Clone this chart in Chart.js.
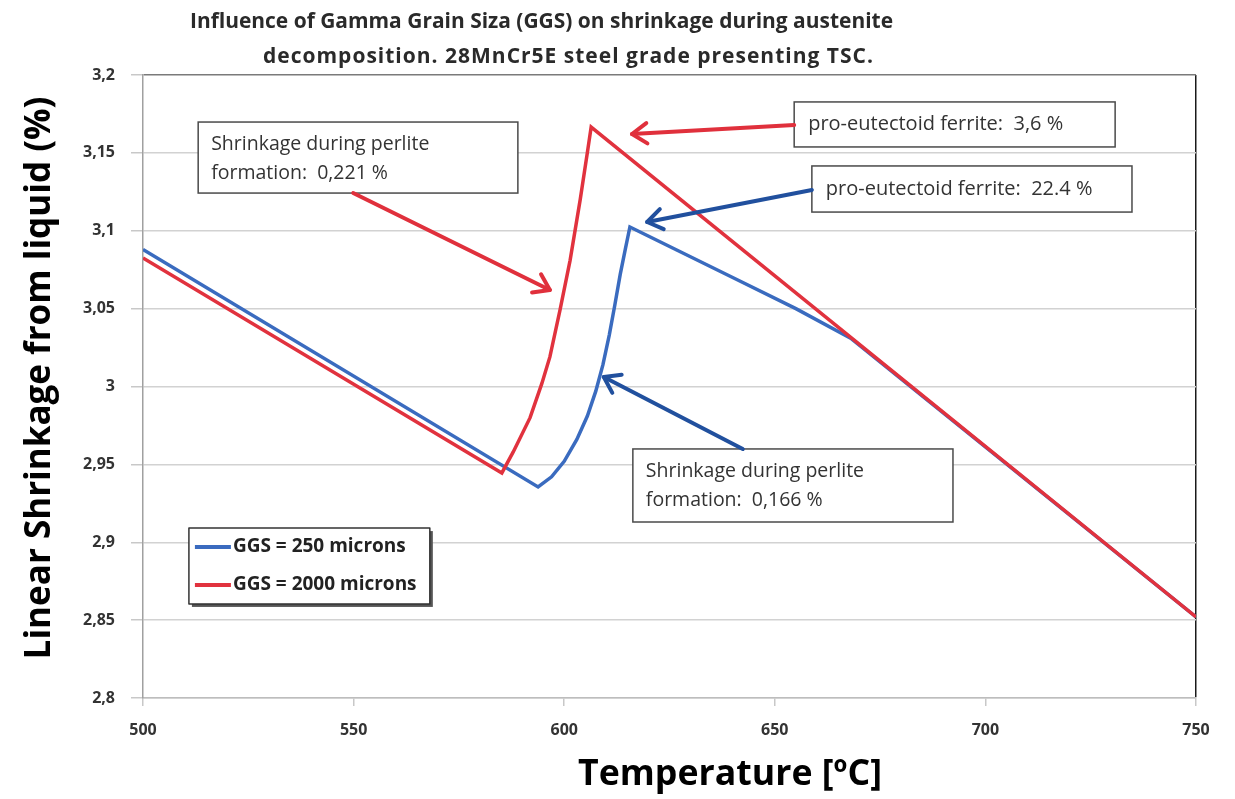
<!DOCTYPE html>
<html>
<head>
<meta charset="utf-8">
<script src="https://cdn.jsdelivr.net/npm/chart.js@4.4.1/dist/chart.umd.min.js"></script>
<style>
  html, body { margin: 0; padding: 0; background: #fff; }
  #wrap { width: 1235px; height: 799px; }
</style>
</head>
<body>
<div id="wrap"><canvas id="shrink" width="1235" height="799"></canvas></div>
<script>
'use strict'

const titleLines = [
  'Influence of Gamma Grain Siza (GGS) on shrinkage during austenite',
  'decomposition. 28MnCr5E steel grade presenting TSC.'
]
const xTitle = 'Temperature [ºC]'
const yTitle = 'Linear Shrinkage from liquid (%)'
const seriesLabels = ['GGS = 250 microns', 'GGS = 2000 microns']

// GGS = 250 microns
const blueTemp = [500, 593.8, 597, 600, 603, 605.5, 607.5, 609.2, 610.7, 612, 613.3, 614.5, 615.6, 640, 655, 668, 750]
const blueShrink = [3.088, 2.9355, 2.942, 2.952, 2.966, 2.981, 2.997, 3.014, 3.033, 3.052, 3.072, 3.088, 3.1024, 3.07, 3.05, 3.031, 2.852]

// GGS = 2000 microns
const redTemp = [500, 585.2, 587.9, 591.9, 594.7, 596.6, 599.0, 601.4, 603.8, 605.6, 606.4, 750]
const redShrink = [3.0825, 2.9445, 2.958, 2.98, 3.002, 3.019, 3.049, 3.081, 3.12, 3.152, 3.1666, 2.852]

const xTicks = [500, 550, 600, 650, 700, 750]
const yTicks = [2.8, 2.85, 2.9, 2.95, 3, 3.05, 3.1, 3.15, 3.2]

const blue = '#3a6bbf'
const red = '#e1323e'

// callouts, in data units (temperature, shrinkage)
const notes = [
  { box: [513.1, 3.1698, 589.0, 3.1242], lines: ['Shrinkage during perlite', 'formation:  0,221 %'] },
  { box: [654.6, 3.1827, 730.8, 3.1538], lines: ['pro-eutectoid ferrite:  3,6 %'] },
  { box: [658.8, 3.1416, 734.8, 3.112], lines: ['pro-eutectoid ferrite:  22.4 %'] },
  { box: [616.3, 2.9599, 692.3, 2.913], lines: ['Shrinkage during perlite', 'formation:  0,166 %'] }
]
const arrows = [
  { from: [549.9, 3.1242], to: [596.6, 3.062], color: '#e0303c' },
  { from: [654.6, 3.1679], to: [616.1, 3.1621], color: '#e0303c' },
  { from: [658.8, 3.1262], to: [619.7, 3.1056], color: '#21509e' },
  { from: [642.4, 2.9599], to: [609.4, 3.0061], color: '#21509e' }
]
const legendBox = [510.9, 2.9091, 568.1, 2.8604]

function fmt(v) {
  return String(Number(v.toFixed(2))).replace('.', ',')
}

const overlay = {
  id: 'overlay',
  afterDatasetsDraw(chart) {
    const { ctx, scales: { x, y } } = chart
    ctx.save()

    notes.forEach((n) => {
      const l = x.getPixelForValue(n.box[0])
      const t = y.getPixelForValue(n.box[1])
      const r = x.getPixelForValue(n.box[2])
      const b = y.getPixelForValue(n.box[3])
      ctx.fillStyle = '#fff'
      ctx.fillRect(l, t, r - l, b - t)
      ctx.strokeStyle = '#4a4a4a'
      ctx.lineWidth = 1.5
      ctx.strokeRect(l, t, r - l, b - t)
      ctx.fillStyle = '#333'
      ctx.textBaseline = 'middle'
      ctx.textAlign = 'left'
      if (n.lines.length === 1) {
        ctx.font = '20px "Open Sans"'
        ctx.fillText(n.lines[0], l + 14, (t + b) / 2, r - l - 20)
      } else {
        ctx.font = '19.5px "Open Sans"'
        ctx.fillText(n.lines[0], l + 13, t + 22)
        ctx.fillText(n.lines[1], l + 13, t + 51)
      }
    })

    arrows.forEach((a) => {
      const x0 = x.getPixelForValue(a.from[0])
      const y0 = y.getPixelForValue(a.from[1])
      const x1 = x.getPixelForValue(a.to[0])
      const y1 = y.getPixelForValue(a.to[1])
      const ang = Math.atan2(y1 - y0, x1 - x0)
      ctx.strokeStyle = a.color
      ctx.lineWidth = 4
      ctx.lineCap = 'round'
      ctx.lineJoin = 'round'
      ctx.beginPath()
      ctx.moveTo(x0, y0)
      ctx.lineTo(x1, y1)
      ctx.stroke()
      ctx.beginPath()
      ctx.moveTo(x1 - 18 * Math.cos(ang - 0.6), y1 - 18 * Math.sin(ang - 0.6))
      ctx.lineTo(x1, y1)
      ctx.lineTo(x1 - 18 * Math.cos(ang + 0.6), y1 - 18 * Math.sin(ang + 0.6))
      ctx.stroke()
    })

    // legend
    const ll = x.getPixelForValue(legendBox[0])
    const lt = y.getPixelForValue(legendBox[1])
    const lr = x.getPixelForValue(legendBox[2])
    const lb = y.getPixelForValue(legendBox[3])
    ctx.fillStyle = '#555'
    ctx.fillRect(ll + 3, lt + 3, lr - ll, lb - lt)
    ctx.fillStyle = '#fff'
    ctx.fillRect(ll, lt, lr - ll, lb - lt)
    ctx.strokeStyle = '#333'
    ctx.lineWidth = 1.5
    ctx.strokeRect(ll, lt, lr - ll, lb - lt)
    const rows = [lt + 19, lt + 57]
    ;[blue, red].forEach((c, i) => {
      ctx.strokeStyle = c
      ctx.lineWidth = 4
      ctx.lineCap = 'butt'
      ctx.beginPath()
      ctx.moveTo(ll + 6, rows[i])
      ctx.lineTo(ll + 42, rows[i])
      ctx.stroke()
      ctx.fillStyle = '#222'
      ctx.font = 'bold 19px "Open Sans"'
      ctx.textBaseline = 'middle'
      ctx.textAlign = 'left'
      ctx.fillText(seriesLabels[i], ll + 44, rows[i], 190)
    })

    ctx.restore()
  },
  afterDraw(chart) {
    const { ctx } = chart
    ctx.save()
    ctx.fillStyle = '#2a2a2a'
    ctx.font = 'bold 21px "Open Sans"'
    ctx.textBaseline = 'middle'
    ctx.textAlign = 'left'
    ctx.fillText(titleLines[0], 190, 22, 703)
    ctx.letterSpacing = '1px'
    ctx.fillText(titleLines[1], 263, 57, 615)
    ctx.letterSpacing = '0px'

    ctx.fillStyle = '#000'
    ctx.font = 'bold 36px "Open Sans"'
    ctx.textAlign = 'center'
    ctx.fillText(xTitle, 730, 775, 304)

    ctx.translate(40, 378)
    ctx.rotate(-Math.PI / 2)
    ctx.font = 'bold 35px "Open Sans"'
    ctx.fillText(yTitle, 0, 0, 582)
    ctx.restore()
  }
}

const tickFont = {
  color: '#333',
  font: { family: 'Open Sans', size: 16, weight: 'bold' }
}

new Chart(document.getElementById('shrink'), {
  type: 'scatter',
  data: {
    datasets: [
      {
        label: seriesLabels[1],
        data: redTemp.map((t, i) => ({ x: t, y: redShrink[i] })),
        borderColor: red,
        borderWidth: 3.5,
        showLine: true,
        pointRadius: 0,
        order: 0
      },
      {
        label: seriesLabels[0],
        data: blueTemp.map((t, i) => ({ x: t, y: blueShrink[i] })),
        borderColor: blue,
        borderWidth: 3.5,
        showLine: true,
        pointRadius: 0,
        order: 1
      }
    ]
  },
  options: {
    responsive: false,
    animation: false,
    layout: { padding: { top: 75, right: 39, left: 0, bottom: 0 } },
    scales: {
      x: {
        type: 'linear',
        min: 500,
        max: 750,
        afterFit: (s) => { s.height = 101 },
        afterBuildTicks: (s) => { s.ticks = xTicks.map((v) => ({ value: v })) },
        grid: {
          color: (c) => (c.tick && c.tick.value === 750 ? '#1a1a1a' : 'rgba(0,0,0,0)'),
          lineWidth: 1.5,
          tickColor: '#c8c8c8',
          tickLength: 8
        },
        border: { color: '#bdbdbd', width: 1.5 },
        ticks: { ...tickFont, padding: 15, maxRotation: 0, callback: (v) => String(v) }
      },
      y: {
        min: 2.8,
        max: 3.2,
        afterFit: (s) => { s.width = 143 },
        afterBuildTicks: (s) => { s.ticks = yTicks.map((v) => ({ value: v })) },
        grid: {
          color: (c) => (c.tick && c.tick.value === 3.2 ? '#7a7a7a' : '#d2d2d2'),
          lineWidth: 1.5,
          tickColor: '#c8c8c8',
          tickLength: 12
        },
        border: { color: '#a0a0a0', width: 1.5 },
        ticks: { ...tickFont, padding: 16, callback: (v) => fmt(v) }
      }
    },
    plugins: {
      legend: { display: false },
      tooltip: { enabled: false }
    }
  },
  plugins: [overlay]
})
</script>
</body>
</html>
